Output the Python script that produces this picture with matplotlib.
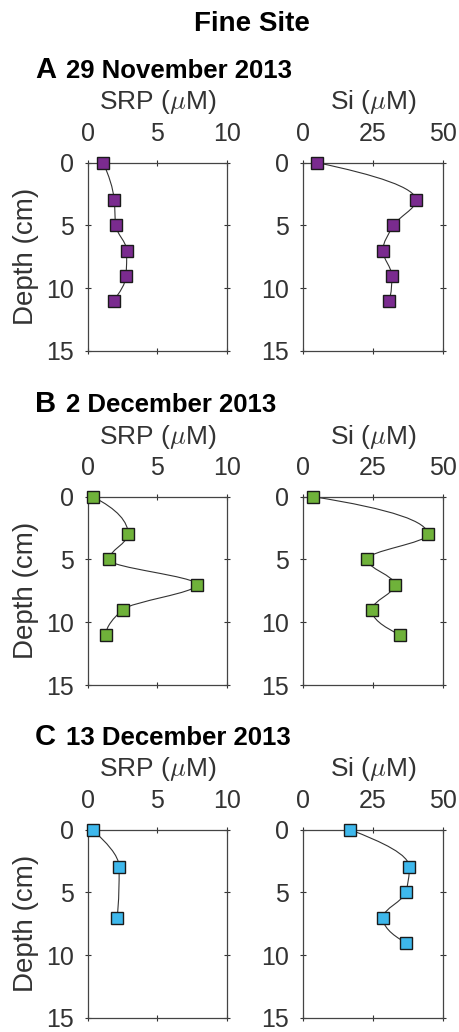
import numpy as np
import matplotlib
matplotlib.use("Agg")
import matplotlib.pyplot as plt
from matplotlib.path import Path
from matplotlib.patches import PathPatch

plt.rcParams["font.family"] = ["Liberation Sans", "DejaVu Sans"]
plt.rcParams["mathtext.fontset"] = "cm"

# Porewater profiles, Fine Site
depth_a = [0, 3, 5, 7, 9, 11]
srp_a = [1.1, 1.9, 2.0, 2.8, 2.75, 1.85]
si_a = [5.0, 40.4, 32.3, 28.5, 31.7, 30.7]

depth_b = [0, 3, 5, 7, 9, 11]
srp_b = [0.35, 2.9, 1.5, 7.85, 2.5, 1.3]
si_b = [3.6, 44.6, 22.7, 32.9, 24.5, 34.7]

depth_c_srp = [0, 3, 7]
srp_c = [0.35, 2.25, 2.1]
depth_c_si = [0, 3, 5, 7, 9]
si_c = [16.7, 38.0, 36.7, 28.5, 36.7]

panel_titles = ["29 November 2013", "2 December 2013", "13 December 2013"]
panel_letters = ["A", "B", "C"]
colors = ["#7a2b8f", "#6fb23a", "#3eb8ec"]

srp_ticks = [0, 5, 10]
si_ticks = [0, 25, 50]
depth_ticks = [0, 5, 10, 15]


def pchip_slopes(t, x):
    t = np.asarray(t, float)
    x = np.asarray(x, float)
    n = len(t)
    h = np.diff(t)
    delta = np.diff(x) / h
    d = np.zeros(n)
    if n == 2:
        d[:] = delta[0]
        return d
    for k in range(1, n - 1):
        if delta[k - 1] * delta[k] <= 0:
            d[k] = 0.0
        else:
            w1 = 2 * h[k] + h[k - 1]
            w2 = h[k] + 2 * h[k - 1]
            d[k] = (w1 + w2) / (w1 / delta[k - 1] + w2 / delta[k])

    def end_slope(h0, h1, d0, d1):
        s = ((2 * h0 + h1) * d0 - h0 * d1) / (h0 + h1)
        if np.sign(s) != np.sign(d0):
            s = 0.0
        elif np.sign(d0) != np.sign(d1) and abs(s) > abs(3 * d0):
            s = 3 * d0
        return s

    d[0] = end_slope(h[0], h[1], delta[0], delta[1])
    d[-1] = end_slope(h[-1], h[-2], delta[-1], delta[-2])
    return d


def smooth_profile(ax, t, x):
    """Shape-preserving cubic curve through the profile, as Bezier segments."""
    d = pchip_slopes(t, x)
    verts = [(x[0], t[0])]
    codes = [Path.MOVETO]
    for k in range(len(t) - 1):
        h = t[k + 1] - t[k]
        verts += [(x[k] + d[k] * h / 3, t[k] + h / 3),
                  (x[k + 1] - d[k + 1] * h / 3, t[k + 1] - h / 3),
                  (x[k + 1], t[k + 1])]
        codes += [Path.CURVE4] * 3
    ax.add_patch(PathPatch(Path(verts, codes), fill=False,
                           edgecolor="#333333", lw=0.8, zorder=2))


def style_axes(ax, xticks, xlabel, ylabel):
    ax.set_xlim(xticks[0], xticks[-1])
    ax.set_ylim(15, 0)
    ax.set_xticks(xticks)
    ax.set_yticks(depth_ticks)
    ax.xaxis.set_label_position("top")
    ax.set_xlabel(xlabel, fontsize=19, color="#333333", labelpad=9)
    if ylabel:
        ax.set_ylabel(ylabel, fontsize=20, color="#333333", labelpad=5)
    ax.tick_params(axis="both", which="both", direction="inout", length=4,
                   width=0.8, colors="#333333", labelsize=18,
                   top=True, bottom=True, left=True, right=True,
                   labeltop=True, labelbottom=False,
                   labelleft=True, labelright=False)
    ax.tick_params(axis="x", pad=10)
    ax.tick_params(axis="y", pad=8)
    for s in ax.spines.values():
        s.set_linewidth(0.9)
        s.set_color("#444444")


fig = plt.figure(figsize=(4.6, 10.32), dpi=100)

rows = [
    (depth_a, srp_a, depth_a, si_a, 0.6599),
    (depth_b, srp_b, depth_b, si_b, 0.3362),
    (depth_c_srp, srp_c, depth_c_si, si_c, 0.0136),
]
height = 0.1825

for i, (dsrp, srp, dsi, si, bottom) in enumerate(rows):
    ax1 = fig.add_axes([0.191, bottom, 0.302, height])
    ax2 = fig.add_axes([0.659, bottom, 0.304, height])
    for ax, dep, val, ticks, lab, ylab in [
        (ax1, dsrp, srp, srp_ticks, r"SRP ($\mu$M)", "Depth (cm)"),
        (ax2, dsi, si, si_ticks, r"Si ($\mu$M)", None),
    ]:
        smooth_profile(ax, dep, val)
        ax.plot(val, dep, linestyle="none", marker="s", markersize=9,
                markerfacecolor=colors[i], markeredgecolor="#1a1a1a",
                markeredgewidth=1.0, zorder=3, clip_on=False)
        style_axes(ax, ticks, lab, ylab)

    top_px = (1 - bottom - height) * 1032
    ybase = 1 - (top_px - 85) / 1032
    fig.text(35 / 460, ybase, panel_letters[i], fontsize=21,
             fontweight="bold", ha="left", va="baseline")
    fig.text(66 / 460, ybase, panel_titles[i], fontsize=18.5,
             fontweight="bold", ha="left", va="baseline")

fig.text(252 / 460, 1 - 24 / 1032, "Fine Site", fontsize=20,
         fontweight="bold", ha="center", va="center")

fig.savefig("out.png", dpi=100)
